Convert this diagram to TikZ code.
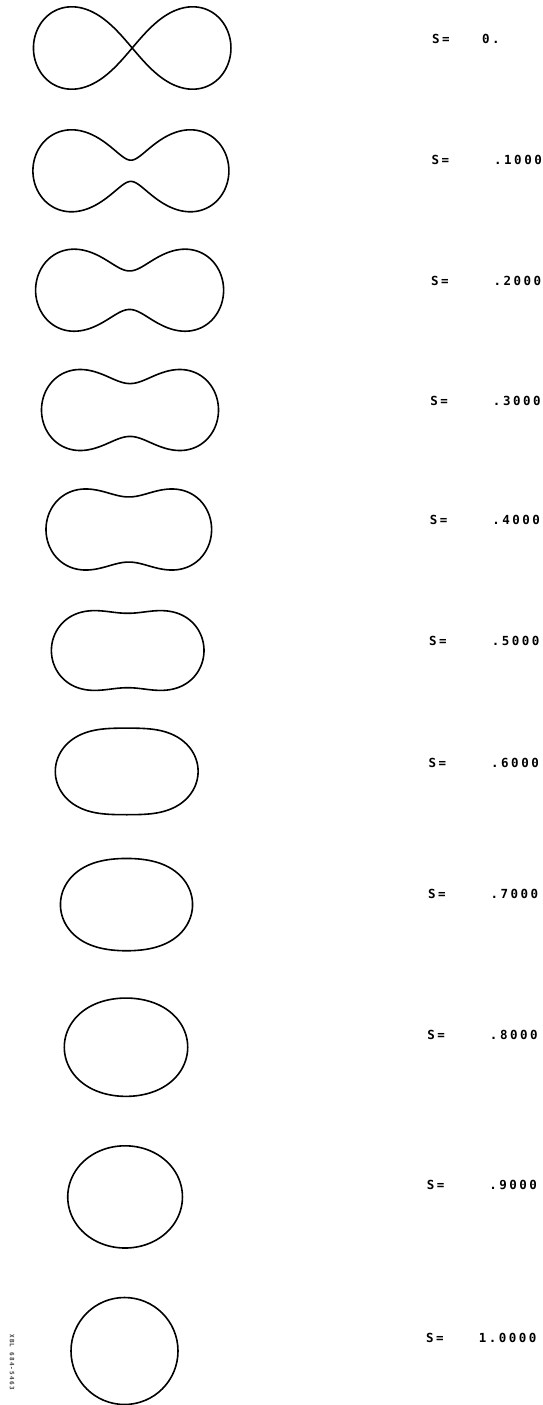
\documentclass[tikz,border=0pt]{standalone}
\usepackage{fontspec}
\newfontfamily\plotfont[LetterSpace=20]{DejaVu Sans Mono Bold}
\tikzset{
  oval/.style={line width=1.6pt, line join=round, line cap=round},
  skey/.style={font=\plotfont\fontsize{12.5}{13}\selectfont, inner sep=0pt, anchor=west},
  sval/.style={font=\plotfont\fontsize{12.5}{13}\selectfont, inner sep=0pt, anchor=east},
  declare function={cr(\t)=sqrt(max(0,\CC*cos(2*\t)+sqrt(\CC*\CC*cos(2*\t)*cos(2*\t)+\DD)));}
}
% #1 cx, #2 cy, #3 c^2, #4 b^4-c^4, #5 yscale
\newcommand\cassinioval[5]{%
  \def\CC{#3}\def\DD{#4}%
  \begin{scope}[shift={(#1,#2)}, xscale=100, yscale=#5]
    \draw[oval] plot[domain=0:360, samples=361] ({cr(\x)*cos(\x)},{cr(\x)*sin(\x)}) -- cycle;
  \end{scope}}
\begin{document}
\begin{tikzpicture}[x=1pt,y=-1pt]
\useasboundingbox (0,0) rectangle (542,1405);
\fill[white] (0,0) rectangle (542,1405);

% s = 0 : lemniscate
\begin{scope}[shift={(132.2,48)}, xscale=100, yscale=118]
  \draw[oval] plot[domain=0:360, samples=361]
    ({0.9875*cos(\x)/(1+sin(\x)*sin(\x))},{0.9875*sin(\x)*cos(\x)/(1+sin(\x)*sin(\x))}) -- cycle;
\end{scope}
% s = .1 ... .9
\cassinioval{130.9}{170.8}{0.4760}{0.00797}{116.8}
\cassinioval{129.6}{290.2}{0.4285}{0.0236}{118}
\cassinioval{130.0}{410.0}{0.3663}{0.03963}{117.6}
\cassinioval{128.8}{529.5}{0.3042}{0.05293}{117.2}
\cassinioval{127.7}{650.5}{0.2356}{0.06463}{111.7}
\cassinioval{126.7}{771.4}{0.1612}{0.09559}{100}
\cassinioval{126.5}{904.6}{0.1116}{0.09293}{100}
\cassinioval{126.0}{1047.2}{0.0696}{0.09198}{100}
\cassinioval{125.1}{1196.9}{0.0339}{0.0859}{100}
% s = 1 : circle
\draw[oval] (124.5,1351) circle[radius=53.5];

% labels
\node[skey] (k0) at (432.0,39) {S=};  \node[skey] (v0) at (482,39) {0.};
\node[skey] (k1) at (431.4,160) {S=}; \node[sval] (v1) at (542,160) {.1000};
\node[skey] (k2) at (430.8,281) {S=}; \node[sval] (v2) at (541.4,281) {.2000};
\node[skey] (k3) at (430.2,401) {S=}; \node[sval] (v3) at (540.8,401) {.3000};
\node[skey] (k4) at (429.6,520) {S=}; \node[sval] (v4) at (540.2,520) {.4000};
\node[skey] (k5) at (429.0,641) {S=}; \node[sval] (v5) at (539.6,641) {.5000};
\node[skey] (k6) at (428.4,763) {S=}; \node[sval] (v6) at (539.0,763) {.6000};
\node[skey] (k7) at (427.8,894) {S=}; \node[sval] (v7) at (538.4,894) {.7000};
\node[skey] (k8) at (427.2,1035) {S=}; \node[sval] (v8) at (537.8,1035) {.8000};
\node[skey] (k9) at (426.6,1185) {S=}; \node[sval] (v9) at (537.2,1185) {.9000};
\node[skey] (k10) at (426.0,1338) {S=}; \node[sval] (v10) at (536.6,1338) {1.0000};

% archive number
\node[rotate=-90, font=\plotfont\fontsize{6}{6}\selectfont, text=black!75, inner sep=0pt] (id) at (12,1362) {XBL 684-5463};
\end{tikzpicture}
\end{document}
